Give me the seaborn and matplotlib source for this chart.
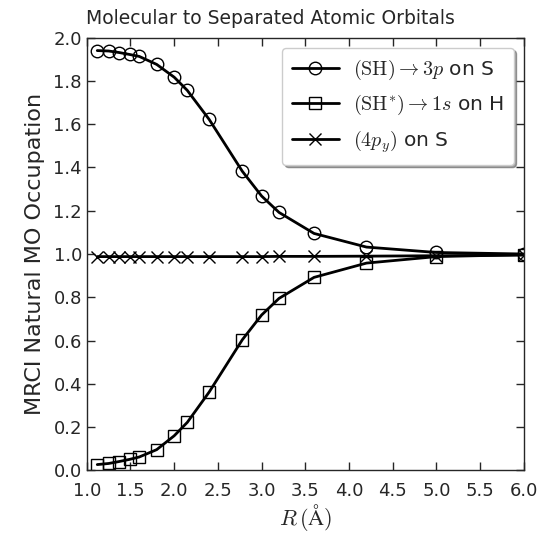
import numpy as np
import pandas as pd
import matplotlib
matplotlib.use("Agg")
import matplotlib.pyplot as plt
import seaborn as sns

# bond length R (Angstrom)
r_vals = [1.12, 1.25, 1.37, 1.49, 1.60, 1.80, 2.00, 2.15, 2.40, 2.78,
          3.00, 3.20, 3.60, 4.20, 5.00, 6.00]

# natural orbital occupations
occ_sh = [1.940, 1.938, 1.931, 1.922, 1.913, 1.876, 1.817, 1.756, 1.622, 1.382,
          1.268, 1.192, 1.095, 1.032, 1.007, 1.000]
occ_sh_star = [0.027, 0.032, 0.041, 0.051, 0.062, 0.096, 0.160, 0.222, 0.362, 0.604,
               0.718, 0.795, 0.892, 0.958, 0.988, 0.997]
occ_4py = [0.988, 0.988, 0.988, 0.988, 0.988, 0.988, 0.988, 0.988, 0.988, 0.988,
           0.988, 0.989, 0.989, 0.990, 0.992, 0.995]

labels = [r"$(\mathrm{SH}) \rightarrow 3p$ on S",
          r"$(\mathrm{SH}^{*}) \rightarrow 1s$ on H",
          r"$(4p_y)$ on S"]

sns.set_style("ticks")
plt.rcParams["font.family"] = ["DejaVu Sans"]
plt.rcParams["mathtext.fontset"] = "cm"
plt.rcParams["xtick.direction"] = "in"
plt.rcParams["ytick.direction"] = "in"
plt.rcParams["xtick.top"] = True
plt.rcParams["ytick.right"] = True

fig = plt.figure(figsize=(5.40, 5.37), dpi=100)
ax = fig.add_axes([0.1607, 0.124, 0.8093, 0.806])

df = pd.DataFrame({"R": r_vals, "sh": occ_sh, "shs": occ_sh_star, "py": occ_4py})

common = dict(color="black", linewidth=2.0, markeredgecolor="black",
              markeredgewidth=1.0, ax=ax, clip_on=True)
sns.lineplot(data=df, x="R", y="sh", marker="o", markersize=9,
             markerfacecolor="none", label=labels[0], **common)
sns.lineplot(data=df, x="R", y="shs", marker="s", markersize=8,
             markerfacecolor="none", label=labels[1], **common)
sns.lineplot(data=df, x="R", y="py", marker="x", markersize=8,
             label=labels[2], **common)

ax.set_xlim(1.0, 6.0)
ax.set_ylim(0.0, 2.0)
ax.set_xticks(np.arange(1.0, 6.01, 0.5))
ax.set_yticks(np.arange(0.0, 2.01, 0.2))
ax.set_xticklabels([f"{v:.1f}" for v in np.arange(1.0, 6.01, 0.5)])
ax.set_yticklabels([f"{v:.1f}" for v in np.arange(0.0, 2.01, 0.2)])
ax.tick_params(labelsize=13, length=6, width=1)
ax.tick_params(axis="x", pad=8)
for s in ax.spines.values():
    s.set_linewidth(1.0)

ax.set_xlabel(r"$R\,(\mathrm{\AA})$", fontsize=16, labelpad=2)
ax.set_ylabel("MRCI Natural MO Occupation", fontsize=16, labelpad=6)
fig.suptitle("Molecular to Separated Atomic Orbitals", fontsize=13.5,
             x=0.5, y=0.965, va="center")

leg = ax.legend(loc="upper right", fontsize=14.5, numpoints=1, handlelength=2.3,
                fancybox=True, shadow=True, frameon=True, borderpad=0.5,
                labelspacing=0.55, handletextpad=0.7)
leg.get_frame().set_edgecolor("#cccccc")

fig.savefig("out.png", dpi=100)
